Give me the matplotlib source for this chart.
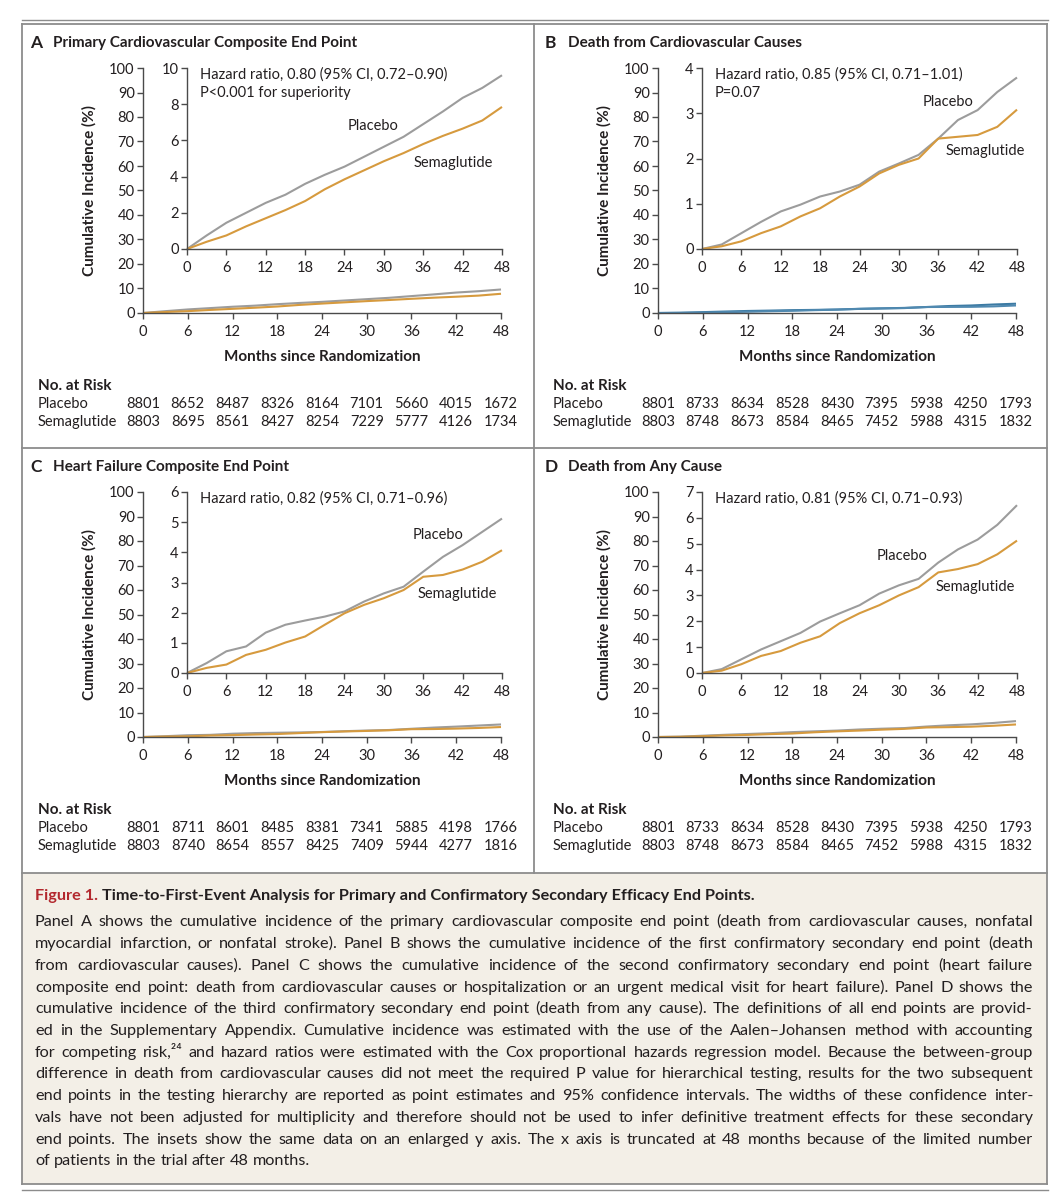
import numpy as np
import matplotlib
matplotlib.use('agg')
import matplotlib.pyplot as plt
from matplotlib import transforms
from matplotlib.lines import Line2D
from matplotlib.patches import Rectangle
from matplotlib.font_manager import FontProperties

plt.rcParams['font.family'] = ['Lato', 'DejaVu Sans']

# ---- data ----
months = np.arange(0, 49, 3)
x_ticks = np.arange(0, 49, 6)

letters = ['A', 'B', 'C', 'D']
titles = ['Primary Cardiovascular Composite End Point',
          'Death from Cardiovascular Causes',
          'Heart Failure Composite End Point',
          'Death from Any Cause']
hr_lines = [['Hazard ratio, 0.80 (95% CI, 0.72\u20130.90)', 'P<0.001 for superiority'],
            ['Hazard ratio, 0.85 (95% CI, 0.71\u20131.01)', 'P=0.07'],
            ['Hazard ratio, 0.82 (95% CI, 0.71\u20130.96)'],
            ['Hazard ratio, 0.81 (95% CI, 0.71\u20130.93)']]
inset_ymax = [10, 4, 6, 7]
inset_ystep = [2, 1, 1, 1]

placebo_a = [0, 0.75, 1.45, 2.0, 2.55, 3.0, 3.6, 4.1, 4.55, 5.1, 5.65, 6.2, 6.9, 7.6, 8.35, 8.9, 9.6]
sema_a = [0, 0.4, 0.75, 1.25, 1.7, 2.15, 2.65, 3.3, 3.85, 4.35, 4.85, 5.3, 5.8, 6.25, 6.65, 7.1, 7.85]
placebo_b = [0, 0.1, 0.35, 0.6, 0.83, 0.98, 1.16, 1.27, 1.42, 1.71, 1.89, 2.08, 2.44, 2.85, 3.07, 3.47, 3.79]
sema_b = [0, 0.06, 0.17, 0.35, 0.5, 0.72, 0.9, 1.16, 1.38, 1.67, 1.86, 2.0, 2.44, 2.48, 2.52, 2.7, 3.08]
placebo_c = [0, 0.33, 0.72, 0.88, 1.34, 1.6, 1.74, 1.87, 2.04, 2.37, 2.64, 2.86, 3.36, 3.85, 4.24, 4.68, 5.12]
sema_c = [0, 0.17, 0.28, 0.6, 0.77, 1.01, 1.21, 1.6, 1.98, 2.26, 2.48, 2.75, 3.19, 3.25, 3.43, 3.69, 4.07]
placebo_d = [0, 0.15, 0.53, 0.91, 1.23, 1.55, 1.99, 2.31, 2.62, 3.07, 3.39, 3.64, 4.27, 4.78, 5.16, 5.73, 6.49]
sema_d = [0, 0.09, 0.34, 0.66, 0.85, 1.17, 1.42, 1.93, 2.31, 2.62, 3.0, 3.32, 3.89, 4.02, 4.21, 4.59, 5.12]
placebo_curves = [placebo_a, placebo_b, placebo_c, placebo_d]
sema_curves = [sema_a, sema_b, sema_c, sema_d]

risk_placebo = [[8801, 8652, 8487, 8326, 8164, 7101, 5660, 4015, 1672],
                [8801, 8733, 8634, 8528, 8430, 7395, 5938, 4250, 1793],
                [8801, 8711, 8601, 8485, 8381, 7341, 5885, 4198, 1766],
                [8801, 8733, 8634, 8528, 8430, 7395, 5938, 4250, 1793]]
risk_sema = [[8803, 8695, 8561, 8427, 8254, 7229, 5777, 4126, 1734],
             [8803, 8748, 8673, 8584, 8465, 7452, 5988, 4315, 1832],
             [8803, 8740, 8654, 8557, 8425, 7409, 5944, 4277, 1816],
             [8803, 8748, 8673, 8584, 8465, 7452, 5988, 4315, 1832]]

caption_head = 'Time-to-First-Event Analysis for Primary and Confirmatory Secondary Efficacy End Points.'
caption_lines = [
  'Panel A shows the cumulative incidence of the primary cardiovascular composite end point (death from cardiovascular causes, nonfatal',
  'myocardial infarction, or nonfatal stroke). Panel B shows the cumulative incidence of the first confirmatory secondary end point (death',
  'from cardiovascular causes). Panel C shows the cumulative incidence of the second confirmatory secondary end point (heart failure',
  'composite end point: death from cardiovascular causes or hospitalization or an urgent medical visit for heart failure). Panel D shows the',
  'cumulative incidence of the third confirmatory secondary end point (death from any cause). The definitions of all end points are provid-',
  'ed in the Supplementary Appendix. Cumulative incidence was estimated with the use of the Aalen\u2013Johansen method with accounting',
  'for competing risk,\u00b2\u2074 and hazard ratios were estimated with the Cox proportional hazards regression model. Because the between-group',
  'difference in death from cardiovascular causes did not meet the required P value for hierarchical testing, results for the two subsequent',
  'end points in the testing hierarchy are reported as point estimates and 95% confidence intervals. The widths of these confidence inter-',
  'vals have not been adjusted for multiplicity and therefore should not be used to infer definitive treatment effects for these secondary',
  'end points. The insets show the same data on an enlarged y axis. The x axis is truncated at 48 months because of the limited number',
  'of patients in the trial after 48 months.']

# ---- styling ----
W, H = 1056, 1200
TXT = '#231f20'
AXC = '#4a4a4a'
GRAY = '#9c9c9c'
ORANGE = '#d69a3e'
BLUES = ['#3b7aa3', '#5089b0']
FRAME = '#8c8c8c'
BEIGE = '#f3efe7'
RED = '#b3282e'
FS = 10.5      # tick labels, table, annotations
FS_B = 11      # bold labels

fig = plt.figure(figsize=(W / 100, H / 100), dpi=100)

def fx(x):
  return x / W

def fy(y):
  return 1 - y / H

def add_ax(left, top, right, bottom):
  return fig.add_axes([fx(left), fy(bottom), (right - left) / W, (bottom - top) / H])

def frame_line(x0, y0, x1, y1, lw=1.3, color=FRAME):
  fig.add_artist(Line2D([fx(x0), fx(x1)], [fy(y0), fy(y1)], transform=fig.transFigure,
                        color=color, lw=lw))

def style_ax(ax):
  for s in ['top', 'right']:
    ax.spines[s].set_visible(False)
  for s in ['left', 'bottom']:
    ax.spines[s].set_color(AXC)
    ax.spines[s].set_linewidth(1.0)
  ax.tick_params(direction='out', length=4.5, width=1.0, color=AXC,
                 labelsize=FS, labelcolor=TXT, pad=1.5)
  ax.set_facecolor('none')

# ---- frame and caption box ----
fig.add_artist(Rectangle((fx(22), fy(1184)), (1046.5 - 22) / W, (1184 - 873) / H,
                         transform=fig.transFigure, facecolor=BEIGE, edgecolor='none'))
frame_line(22, 19.5, 1048, 19.5, lw=1.0)
frame_line(22, 23.5, 1046.5, 23.5)
frame_line(22, 23.5, 22, 1184)
frame_line(1046.5, 23.5, 1046.5, 1184)
frame_line(22, 1184, 1046.5, 1184)
frame_line(22, 447.5, 1046.5, 447.5)
frame_line(534, 23.5, 534, 873)
frame_line(22, 873, 1046.5, 873)
frame_line(22, 1190, 1048, 1190, lw=1.0)

# ---- panels ----
label_pos = [[(373, 126), (453, 163)],
             [(948, 102), (985, 151)],
             [(438, 535), (457, 594)],
             [(902, 556), (975, 587)]]

for i in range(4):
  dx = 515 * (i % 2)
  dy = 424 * (i // 2)

  fig.text(fx(30 + dx), fy(43 + dy), letters[i], fontsize=12.5, fontweight='bold',
           color=TXT, va='center', ha='left')
  fig.text(fx(53 + dx), fy(43 + dy), titles[i], fontsize=FS_B, fontweight='bold',
           color=TXT, va='center', ha='left')

  # main axes, 0-100 %
  ax = add_ax(143 + dx, 68 + dy, 501 + dx, 313 + dy)
  style_ax(ax)
  if i == 1:
    c_p, c_s = BLUES
  else:
    c_p, c_s = GRAY, ORANGE
  ax.plot(months, placebo_curves[i], color=c_p, lw=1.5, clip_on=False, solid_capstyle='butt')
  ax.plot(months, sema_curves[i], color=c_s, lw=1.5, clip_on=False, solid_capstyle='butt')
  ax.set_xlim(0, 48)
  ax.set_ylim(0, 100)
  ax.set_xticks(x_ticks)
  ax.set_yticks(np.arange(0, 101, 10))
  ax.tick_params(axis='x', pad=4)

  # inset, enlarged y axis
  ins = add_ax(187 + dx, 68 + dy, 502 + dx, 249 + dy)
  style_ax(ins)
  ins.plot(months, placebo_curves[i], color=GRAY, lw=1.5, clip_on=False, solid_capstyle='butt')
  ins.plot(months, sema_curves[i], color=ORANGE, lw=1.5, clip_on=False, solid_capstyle='butt')
  ins.set_xlim(0, 48)
  ins.set_ylim(0, inset_ymax[i])
  ins.set_xticks(x_ticks)
  ins.set_yticks(np.arange(0, inset_ymax[i] + 0.1, inset_ystep[i]))
  ins.tick_params(axis='x', pad=4)

  for k, line in enumerate(hr_lines[i]):
    fig.text(fx(200 + dx), fy(75 + 18 * k + dy), line, fontsize=FS, color=TXT,
             va='center', ha='left')
  (px, py), (sx, sy) = label_pos[i]
  fig.text(fx(px), fy(py), 'Placebo', fontsize=FS, color=TXT, va='center', ha='center')
  fig.text(fx(sx), fy(sy), 'Semaglutide', fontsize=FS, color=TXT, va='center', ha='center')

  fig.text(fx(89 + dx), fy(191 + dy), 'Cumulative Incidence (%)', fontsize=FS_B,
           fontweight='bold', color=TXT, rotation=90, va='center', ha='center')
  fig.text(fx(322 + dx), fy(357 + dy), 'Months since Randomization', fontsize=FS_B,
           fontweight='bold', color=TXT, va='center', ha='center')

  # number at risk
  fig.text(fx(38 + dx), fy(386 + dy), 'No. at Risk', fontsize=FS_B, fontweight='bold',
           color=TXT, va='center', ha='left')
  fig.text(fx(38 + dx), fy(404 + dy), 'Placebo', fontsize=FS, color=TXT, va='center', ha='left')
  fig.text(fx(38 + dx), fy(422 + dy), 'Semaglutide', fontsize=FS, color=TXT, va='center', ha='left')
  tr = transforms.blended_transform_factory(ax.transData, fig.transFigure)
  for m, n_p, n_s in zip(x_ticks, risk_placebo[i], risk_sema[i]):
    ax.text(m, fy(404 + dy), str(n_p), transform=tr, fontsize=FS, color=TXT,
            va='center', ha='center')
    ax.text(m, fy(422 + dy), str(n_s), transform=tr, fontsize=FS, color=TXT,
            va='center', ha='center')

# ---- caption ----
renderer = fig.canvas.get_renderer()
cap_size = 11.7
cap_prop = FontProperties(family=['Lato', 'DejaVu Sans'], size=cap_size)
head_prop = FontProperties(family=['Lato', 'DejaVu Sans'], size=cap_size, weight='bold')

def text_width(s, prop):
  return renderer.get_text_width_height_descent(s, prop, ismath=False)[0]

fig.text(fx(35), fy(900), 'Figure 1.', fontproperties=head_prop, color=RED,
         va='baseline', ha='left')
head_x = 35 + text_width('Figure 1. ', head_prop)
fig.text(fx(head_x), fy(900), caption_head, fontproperties=head_prop, color=TXT,
         va='baseline', ha='left')

# justified body text, one text per word; baselines on whole pixels so
# every word of a line lands on the same row
space_w = text_width('a a', cap_prop) - text_width('aa', cap_prop)
x_left, x_right = 35, 1033
for k, line in enumerate(caption_lines):
  y = round(926.5 + 21.7 * k)
  words = line.split(' ')
  widths = [text_width(w, cap_prop) for w in words]
  if k == len(caption_lines) - 1:
    gap = space_w
  else:
    gap = max((x_right - x_left - sum(widths)) / (len(words) - 1), 0.6 * space_w)
  x = x_left
  for w, wd in zip(words, widths):
    fig.text(fx(x), fy(y), w, fontproperties=cap_prop, color=TXT, va='baseline', ha='left')
    x += wd + gap

fig.savefig('out.png', dpi=100)
